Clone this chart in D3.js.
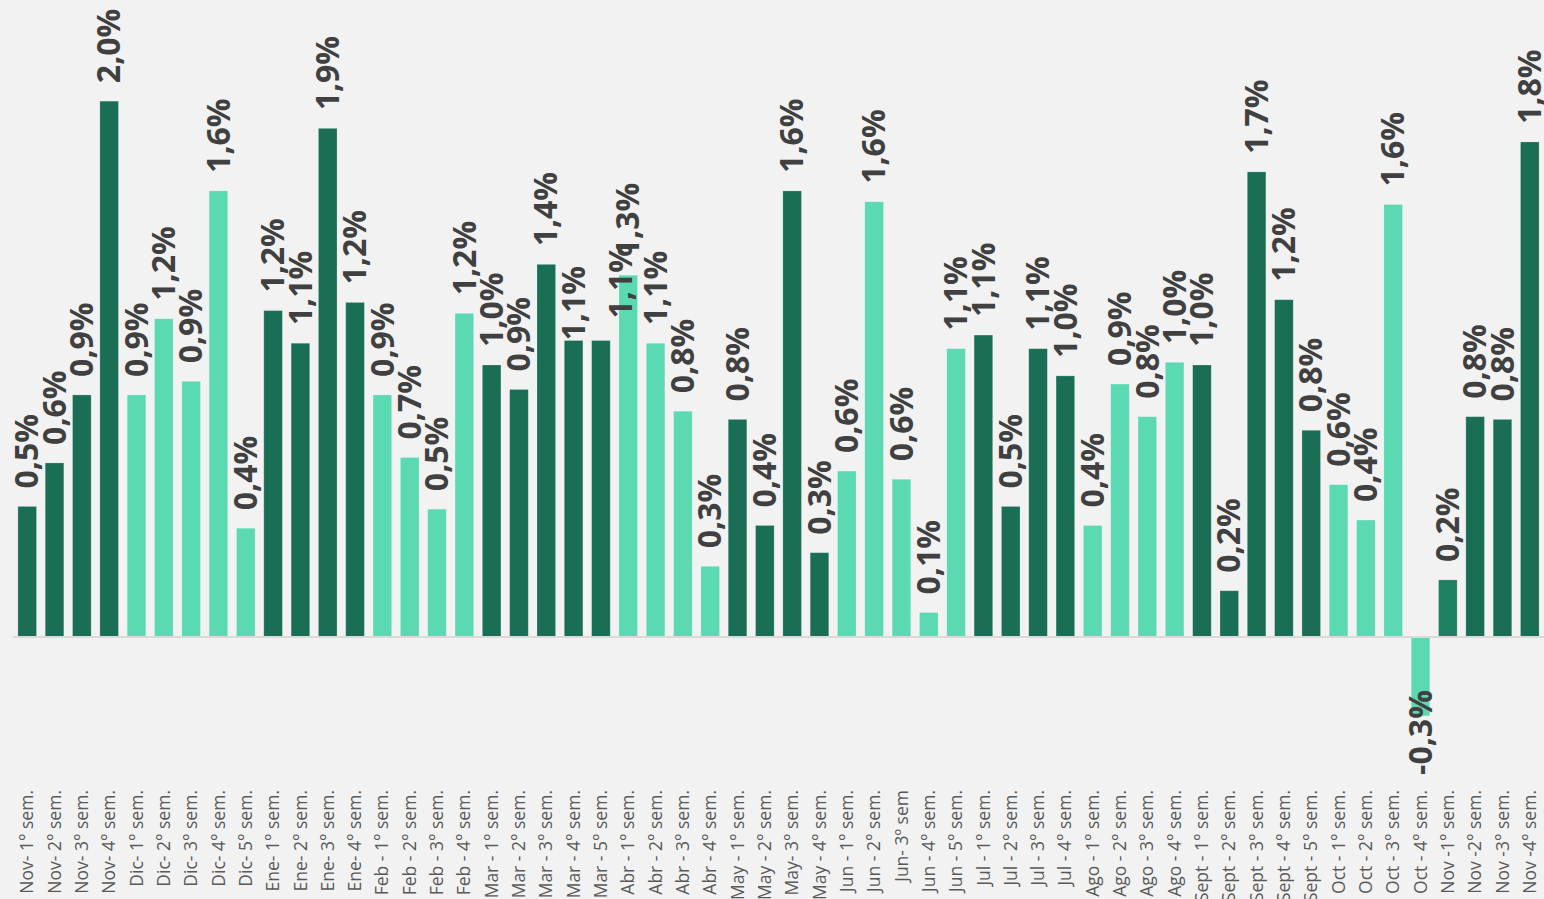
<!DOCTYPE html>
<html>
<head>
<meta charset="utf-8">
<script src="https://cdn.jsdelivr.net/npm/d3@7"></script>
<style>
    html, body { margin: 0; padding: 0; background: #f2f2f2; overflow: hidden; }
</style>
</head>
<body>
<div id="canvas"></div>
<script>
// Constants related to the size of the canvas.
const WIDTH = 1544;
const HEIGHT = 899;
const ZERO_Y = 637;
const PX_PER_PCT = 272;

// Week labels (x axis).
const weeks = [
    "Nov- 1° sem.", "Nov- 2° sem.", "Nov- 3° sem.", "Nov- 4° sem.",
    "Dic- 1° sem.", "Dic- 2° sem.", "Dic- 3° sem.", "Dic- 4° sem.", "Dic- 5° sem.",
    "Ene- 1° sem.", "Ene- 2° sem.", "Ene- 3° sem.", "Ene- 4° sem.",
    "Feb - 1° sem.", "Feb - 2° sem.", "Feb - 3° sem.", "Feb - 4° sem.",
    "Mar - 1° sem.", "Mar - 2° sem.", "Mar - 3° sem.", "Mar - 4° sem.", "Mar - 5° sem.",
    "Abr - 1° sem.", "Abr - 2° sem.", "Abr - 3° sem.", "Abr - 4° sem.",
    "May - 1° sem.", "May - 2° sem.", "May- 3° sem.", "May - 4° sem.",
    "Jun - 1° sem.", "Jun - 2° sem.", "Jun- 3º sem", "Jun - 4° sem.", "Jun - 5° sem.",
    "Jul - 1° sem.", "Jul - 2° sem.", "Jul - 3° sem.", "Jul - 4° sem.",
    "Ago - 1° sem.", "Ago - 2° sem.", "Ago - 3° sem.", "Ago - 4° sem.",
    "Sept - 1° sem.", "Sept - 2° sem.", "Sept - 3° sem.", "Sept - 4° sem.", "Sept - 5° sem.",
    "Oct - 1° sem.", "Oct - 2° sem.", "Oct - 3° sem.", "Oct - 4° sem.",
    "Nov -1° sem.", "Nov -2° sem.", "Nov -3° sem.", "Nov -4° sem."
];

// Weekly variation (%).
const variation = [
    0.48, 0.64, 0.89, 1.97,
    0.89, 1.17, 0.94, 1.64, 0.40,
    1.20, 1.08, 1.87, 1.23,
    0.89, 0.66, 0.47, 1.19,
    1.00, 0.91, 1.37, 1.09, 1.09,
    1.33, 1.08, 0.83, 0.26,
    0.80, 0.41, 1.64, 0.31,
    0.61, 1.60, 0.58, 0.09, 1.06,
    1.11, 0.48, 1.06, 0.96,
    0.41, 0.93, 0.81, 1.01,
    1.00, 0.17, 1.71, 1.24, 0.76,
    0.56, 0.43, 1.59, -0.29,
    0.21, 0.81, 0.80, 1.82
];

// Colours: months alternate between dark and light green.
const DARK = "#1a6e55";
const LIGHT = "#5bd9b2";
const ODD_ONE = "#1e8062";

const month = (s) => s.split(/[\s-]/)[0];
const colors = [];
weeks.forEach((w, i) => {
    if (i === 0) colors.push(DARK);
    else if (month(w) === month(weeks[i - 1])) colors.push(colors[i - 1]);
    else colors.push(colors[i - 1] === DARK ? LIGHT : DARK);
});
colors[52] = ODD_ONE;

// Some labels were nudged by hand in the original.
const labelNudge = { 20: [0, 18], 21: [20, -4] };

// Creates the SVG element.
const svg = d3.select("#canvas")
    .append("svg")
    .attr("width", WIDTH)
    .attr("height", HEIGHT)
    .style("background", "#f2f2f2");

// X scale.
const xScale = d3.scaleBand()
    .domain(d3.range(weeks.length))
    .range([13, WIDTH])
    .paddingInner(0.32)
    .paddingOuter(0.18);

// Y scale.
const yScale = d3.scaleLinear()
    .domain([-0.4, ZERO_Y / PX_PER_PCT])
    .range([ZERO_Y + 0.4 * PX_PER_PCT, 0]);

// Bars.
svg.append("g")
    .selectAll("rect")
    .data(variation)
    .enter()
    .append("rect")
    .attr("x", (d, i) => xScale(i))
    .attr("y", (d) => yScale(Math.max(0, d)))
    .attr("width", xScale.bandwidth())
    .attr("height", (d) => Math.abs(yScale(d) - yScale(0)))
    .attr("fill", (d, i) => colors[i])
    .attr("stroke", "#ffffff")
    .attr("stroke-opacity", 0.25)
    .attr("stroke-width", 0.8);

// Zero line.
svg.append("line")
    .attr("x1", 13)
    .attr("x2", WIDTH)
    .attr("y1", yScale(0))
    .attr("y2", yScale(0))
    .attr("stroke", "#d9d9d9")
    .attr("stroke-width", 2);

// X axis with vertical labels.
const xAxis = d3.axisBottom(xScale)
    .tickSize(0)
    .tickFormat((i) => weeks[i]);

const axisG = svg.append("g")
    .attr("transform", `translate(0, ${yScale(0)})`)
    .call(xAxis);

axisG.select(".domain").remove();
axisG.selectAll("text")
    .attr("transform", "rotate(-90)")
    .attr("x", -(790 - yScale(0)))
    .attr("y", 0)
    .attr("dy", "0.35em")
    .attr("text-anchor", "end")
    .style("font-family", "'Open Sans', sans-serif")
    .style("font-size", "17.5px")
    .style("fill", "#595959");

// Value labels.
const fmt = (v) => v.toFixed(1).replace(".", ",") + "%";

svg.append("g")
    .selectAll("text")
    .data(variation)
    .enter()
    .append("text")
    .attr("transform", (d, i) => {
        const n = labelNudge[i] || [0, 0];
        const cx = xScale(i) + xScale.bandwidth() / 2 + n[0];
        const y = d >= 0 ? yScale(d) - 18 + n[1] : yScale(d) + 59;
        return `translate(${cx}, ${y}) rotate(-90)`;
    })
    .attr("dy", "0.35em")
    .attr("text-anchor", "start")
    .style("font-family", "'Open Sans', sans-serif")
    .style("font-weight", "700")
    .style("font-size", "32px")
    .style("fill", "#404040")
    .text((d) => fmt(d));
</script>
</body>
</html>
